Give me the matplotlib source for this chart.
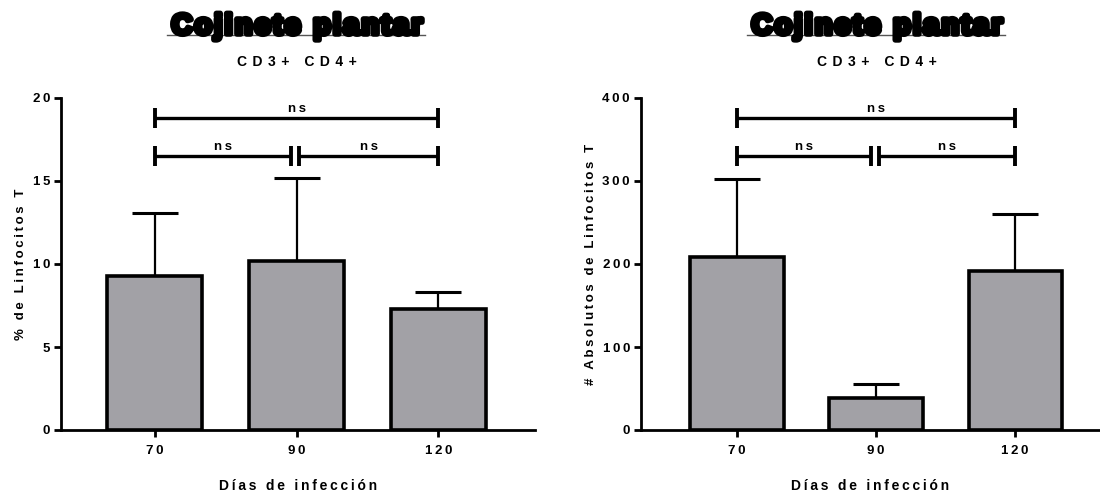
import numpy as np
import matplotlib
matplotlib.use('Agg')
import matplotlib.pyplot as plt
import matplotlib.patheffects as pe
from matplotlib.lines import Line2D

plt.rcParams['font.family'] = ['Liberation Sans', 'DejaVu Sans']
plt.rcParams['font.weight'] = 'bold'

# datos
dias = ['70', '90', '120']
pct_media = [9.3, 10.2, 7.3]
pct_err = [3.75, 5.0, 1.0]
abs_media = [209, 39, 192]
abs_err = [94, 16, 68]

titulo = 'Cojinete plantar'
subtitulo = 'CD3+ CD4+'
xlabel = 'Días de infección'
ylabel_pct = '% de Linfocitos T'
ylabel_abs = '# Absolutos de Linfocitos T'

# comparaciones (desde, hasta, altura, texto)
comp_pct = [(0, 2, 18.8, 'ns'), (0, 0.96, 16.5, 'ns'), (1.02, 2, 16.5, 'ns')]
comp_abs = [(0, 2, 376, 'ns'), (0, 0.96, 330, 'ns'), (1.02, 2, 330, 'ns')]

gris = '#a2a1a6'


def esp(s, sep='\u2009'):
    # separa letras como en el original
    return sep.join(s)


def panel(ax, medias, errs, ymax, ystep, ylabel, comps, xlim):
    x = np.arange(len(dias))
    ax.bar(x, medias, width=0.67, color=gris, edgecolor='black', linewidth=2.6, zorder=3)
    ax.errorbar(x, medias, yerr=[np.zeros(len(errs)), errs], fmt='none', ecolor='black',
                elinewidth=1.6, capsize=16.5, capthick=2.2, zorder=2)
    h = ymax * 0.03
    for a, b, y, t in comps:
        ax.plot([a, b], [y, y], color='black', lw=2.4, clip_on=False, solid_capstyle='butt')
        ax.plot([a, a], [y - h, y + h], color='black', lw=2.8, clip_on=False, solid_capstyle='butt')
        ax.plot([b, b], [y - h, y + h], color='black', lw=2.8, clip_on=False, solid_capstyle='butt')
        ax.text((a + b) / 2, y + ymax * 0.008, esp(t), ha='center', va='bottom', fontsize=9.5,
                fontweight='bold')
    ax.set_ylim(0, ymax)
    ax.set_xlim(*xlim)
    ax.set_yticks(np.arange(0, ymax + 1, ystep))
    ax.set_yticklabels([esp(str(int(v))) for v in np.arange(0, ymax + 1, ystep)])
    ax.set_xticks(x)
    ax.set_xticklabels([esp(d) for d in dias])
    for s in ['top', 'right']:
        ax.spines[s].set_visible(False)
    for s in ['left', 'bottom']:
        ax.spines[s].set_linewidth(2.0)
    ax.tick_params(axis='both', width=2.0, length=5, labelsize=9.5)
    ax.tick_params(axis='y', pad=3)
    ax.tick_params(axis='x', pad=6)
    ax.set_xlabel(esp(xlabel), fontsize=10, fontweight='bold', labelpad=16)
    ax.set_ylabel(esp(ylabel), fontsize=9.5, fontweight='bold', labelpad=4)


fig = plt.figure(figsize=(11, 4.93), dpi=100)
ax1 = fig.add_axes([61 / 1100, 63 / 493, 474 / 1100, 332 / 493])
ax2 = fig.add_axes([641 / 1100, 63 / 493, 459 / 1100, 332 / 493])

panel(ax1, pct_media, pct_err, 20, 5, ylabel_pct, comp_pct, (-0.66, 2.68))
panel(ax2, abs_media, abs_err, 400, 100, ylabel_abs, comp_abs, (-0.69, 2.61))

for cx in [297, 877]:
    fig.text(cx / 1100, 1 - 34 / 493, esp(titulo, '\u200a'), ha='center', va='baseline',
             fontsize=20.5, fontweight='bold',
             path_effects=[pe.withStroke(linewidth=4.0, foreground='black')])
    fig.add_artist(Line2D([(cx - 130) / 1100, (cx + 128) / 1100], [1 - 35 / 493, 1 - 35 / 493],
                          color='#555555', lw=1.0))
    fig.text(cx / 1100, 1 - 62 / 493, esp(subtitulo, '\u2009\u2009'), ha='center', va='center',
             fontsize=10, fontweight='bold')

fig.savefig('out.png', dpi=100)
